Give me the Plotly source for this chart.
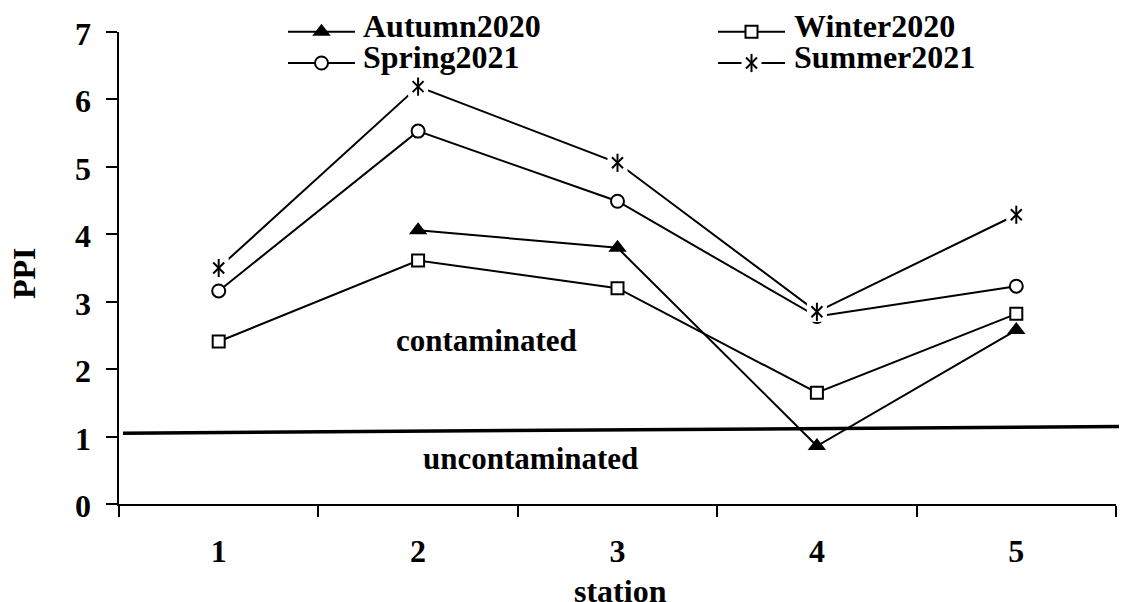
import plotly.graph_objects as go

# ---------------- data ----------------
stations = ["1", "2", "3", "4", "5"]
autumn2020 = [None, 4.06, 3.80, 0.86, 2.58]
winter2020 = [2.41, 3.61, 3.20, 1.65, 2.82]
spring2021 = [3.16, 5.53, 4.49, 2.78, 3.23]
summer2021 = [3.50, 6.19, 5.06, 2.85, 4.29]
series_names = ["Autumn2020", "Winter2020", "Spring2021", "Summer2021"]
y_ticks = [0, 1, 2, 3, 4, 5, 6, 7]
threshold_left = 1.05
threshold_right = 1.15
zone_labels = ["contaminated", "uncontaminated"]
axis_titles = ["station", "PPI"]

FONT = "Liberation Serif, Times New Roman, serif"
BLACK = "#000000"

# The page body has an 8px margin: the figure is sized to fit the window.
OFF = 8
W, H = 1127 - OFF, 602 - OFF
# plot area in window pixels
L, R, T, B = 119, 1116, 32, 504

def tfont(size):
    return dict(family=FONT, size=size, color=BLACK, weight="bold")

MK = {
    "tri": dict(symbol="triangle-up", size=16, color=BLACK),
    "sq": dict(symbol="square", size=12, color="white", line=dict(color=BLACK, width=2)),
    "circ": dict(symbol="circle", size=13, color="white", line=dict(color=BLACK, width=2)),
    "box": dict(symbol="square", size=20, color="white", line=dict(width=0)),
    "xs": dict(symbol="x-thin-open", size=11, color=BLACK, line=dict(color=BLACK, width=2)),
    "bar": dict(symbol="line-ns-open", size=13, color=BLACK, line=dict(color=BLACK, width=2)),
}

fig = go.Figure()

def data_trace(y, name, mode, mk=None, line=True):
    kw = dict(x=stations, y=y, name=name, mode=mode, showlegend=False, cliponaxis=False,
              xaxis="x", yaxis="y")
    if line:
        kw["line"] = dict(color=BLACK, width=2)
    if mk is not None:
        kw["marker"] = mk
    fig.add_trace(go.Scatter(**kw))

data_trace(autumn2020, series_names[0], "lines+markers", MK["tri"])
data_trace(winter2020, series_names[1], "lines+markers", MK["sq"])
data_trace(spring2021, series_names[2], "lines+markers", MK["circ"])
data_trace(summer2021, series_names[3], "lines")
data_trace(summer2021, series_names[3], "markers", MK["box"], line=False)
data_trace(summer2021, series_names[3], "markers", MK["xs"], line=False)
data_trace(summer2021, series_names[3], "markers", MK["bar"], line=False)

# ---------------- hand-built legend on a full-window pixel subplot ----------------
leg_rows = [31.7, 63.0]
leg_text_rows = [25.5, 56.5]
leg_cols = [(288, 355, 321.5, 361), (718, 785, 751.5, 792)]
legend_items = [
    (0, 0, series_names[0], ["tri"]),
    (1, 0, series_names[1], ["sq"]),
    (0, 1, series_names[2], ["circ"]),
    (1, 1, series_names[3], ["box", "xs", "bar"]),
]
for col, row, name, mks in legend_items:
    x0, x1, xm, xt = leg_cols[col]
    yy = leg_rows[row]
    fig.add_trace(go.Scatter(x=[x0, x1], y=[yy, yy], xaxis="x2", yaxis="y2", mode="lines",
                             line=dict(color=BLACK, width=2), showlegend=False, hoverinfo="skip"))
    for m in mks:
        fig.add_trace(go.Scatter(x=[xm], y=[yy], xaxis="x2", yaxis="y2", mode="markers",
                                 marker=MK[m], showlegend=False, hoverinfo="skip"))
    fig.add_annotation(x=xt, y=leg_text_rows[row], xref="x2", yref="y2", text=name,
                       showarrow=False, xanchor="left", yanchor="middle", font=tfont(32))

# ---------------- threshold line ----------------
fig.add_shape(type="line", xref="paper", yref="y",
              x0=(123 - OFF) / W, x1=1.0,
              y0=threshold_left, y1=threshold_right,
              line=dict(color=BLACK, width=3.5), layer="below")

# zone labels
fig.add_annotation(x=1.345, y=2.43, xref="x", yref="y", text=zone_labels[0], showarrow=False,
                   font=tfont(31))
fig.add_annotation(x=1.566, y=0.68, xref="x", yref="y", text=zone_labels[1], showarrow=False,
                   font=tfont(31))

# y tick labels (placed on the y scale, right-aligned at a fixed distance from the axis)
for v in y_ticks:
    fig.add_annotation(x=93, y=v, xref="x2", yref="y", text=str(v), showarrow=False,
                       xanchor="right", yanchor="middle", yshift=-2, font=tfont(32))

# axis titles
fig.add_annotation(x=620, y=591, xref="x2", yref="y2", text=axis_titles[0], showarrow=False,
                   xanchor="center", yanchor="middle", font=tfont(32))
fig.add_annotation(x=24, y=273, xref="x2", yref="y2", text=axis_titles[1], showarrow=False,
                   textangle=-90, xanchor="center", yanchor="middle", font=tfont(32))

fig.update_layout(
    width=W, height=H, autosize=False,
    margin=dict(l=0, r=0, t=0, b=0, pad=0),
    paper_bgcolor="white", plot_bgcolor="rgba(0,0,0,0)",
    font=tfont(32),
    showlegend=False,
    xaxis=dict(domain=[(L - OFF) / W, (R - OFF) / W], anchor="y",
               type="category", categoryorder="array", categoryarray=stations,
               range=[-0.5, 4.5], tickson="boundaries", ticks="outside", ticklen=11,
               tickwidth=2, tickcolor=BLACK, showline=True, linecolor=BLACK, linewidth=2,
               showgrid=False, zeroline=False, ticklabelstandoff=18, automargin=False,
               tickfont=tfont(32)),
    yaxis=dict(domain=[(602 - B) / H, (602 - T) / H], anchor="x",
               range=[0, 7], tickvals=y_ticks, ticks="outside", ticklen=11, tickwidth=2,
               tickcolor=BLACK, showline=True, linecolor=BLACK, linewidth=2,
               showgrid=False, zeroline=False, showticklabels=False, automargin=False),
    xaxis2=dict(domain=[0, 1], anchor="y2", range=[OFF, 1127], visible=False,
                showgrid=False, zeroline=False, fixedrange=True),
    yaxis2=dict(domain=[0, 1], anchor="x2", range=[602, OFF], visible=False,
                showgrid=False, zeroline=False, fixedrange=True),
)

fig.write_html("out.html")
